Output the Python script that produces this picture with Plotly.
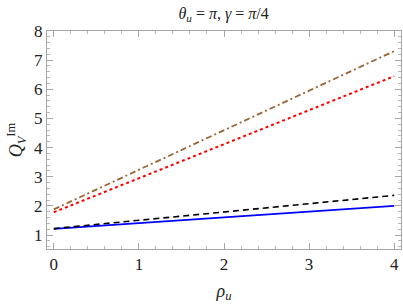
import plotly.graph_objects as go

rho = [0, 1, 2, 3, 4]
q_blue = [1.21, 1.41, 1.61, 1.80, 2.00]
q_black = [1.22, 1.50, 1.79, 2.07, 2.36]
q_red = [1.78, 2.95, 4.12, 5.28, 6.45]
q_brown = [1.88, 3.24, 4.60, 5.95, 7.31]

fig = go.Figure()
fig.add_trace(go.Scatter(x=rho, y=q_blue, mode="lines", line=dict(color="#0000ff", width=1.6, dash="solid")))
fig.add_trace(go.Scatter(x=rho, y=q_black, mode="lines", line=dict(color="#000000", width=1.6, dash="6px,4px")))
fig.add_trace(go.Scatter(x=rho, y=q_red, mode="lines", line=dict(color="#ff0000", width=2, dash="dot")))
fig.add_trace(go.Scatter(x=rho, y=q_brown, mode="lines", line=dict(color="#996633", width=1.8, dash="6px,3px,2px,3px")))

serif = "'Liberation Serif', 'Times New Roman', Times, serif"
axis_common = dict(
    showgrid=False, zeroline=False, showline=True, linecolor="#a6a6a6", linewidth=1,
    mirror="allticks", ticks="inside", ticklen=6, tickcolor="#a6a6a6", tickwidth=1,
    automargin=False, ticklabeloverflow="allow",
    tickfont=dict(family=serif, size=17, color="#222"),
    minor=dict(ticks="inside", ticklen=3, tickcolor="#b8b8b8", dtick=0.2, showgrid=False),
)

fig.update_layout(
    width=403, height=306,
    margin=dict(l=47, r=2, t=31, b=57),
    paper_bgcolor="white", plot_bgcolor="white",
    showlegend=False,
    font=dict(family=serif, color="#222"),
    title=dict(text="<i>θ<sub>u</sub></i> = <i>π</i>, <i>γ</i> = <i>π</i>/4", x=0.555, xanchor="center",
               y=0.957, yanchor="middle", font=dict(family=serif, size=16, color="#222"), automargin=False),
    xaxis=dict(range=[-0.08, 4.08], tickvals=[0, 1, 2, 3, 4], **axis_common,
               title=dict(text="<i>ρ<sub>u</sub></i>", font=dict(family=serif, size=18, color="#222"), standoff=10)),
    yaxis=dict(range=[0.52, 8.0], tickvals=[1, 2, 3, 4, 5, 6, 7, 8], **axis_common,
               title=dict(text="<i>Q</i><sub><i>V</i></sub><sup>Im</sup>", font=dict(family=serif, size=18, color="#222"), standoff=6)),
)

fig.write_html("out.html", config={"displayModeBar": False},
               post_script="document.body.style.margin='0';document.body.style.overflow='hidden';")
